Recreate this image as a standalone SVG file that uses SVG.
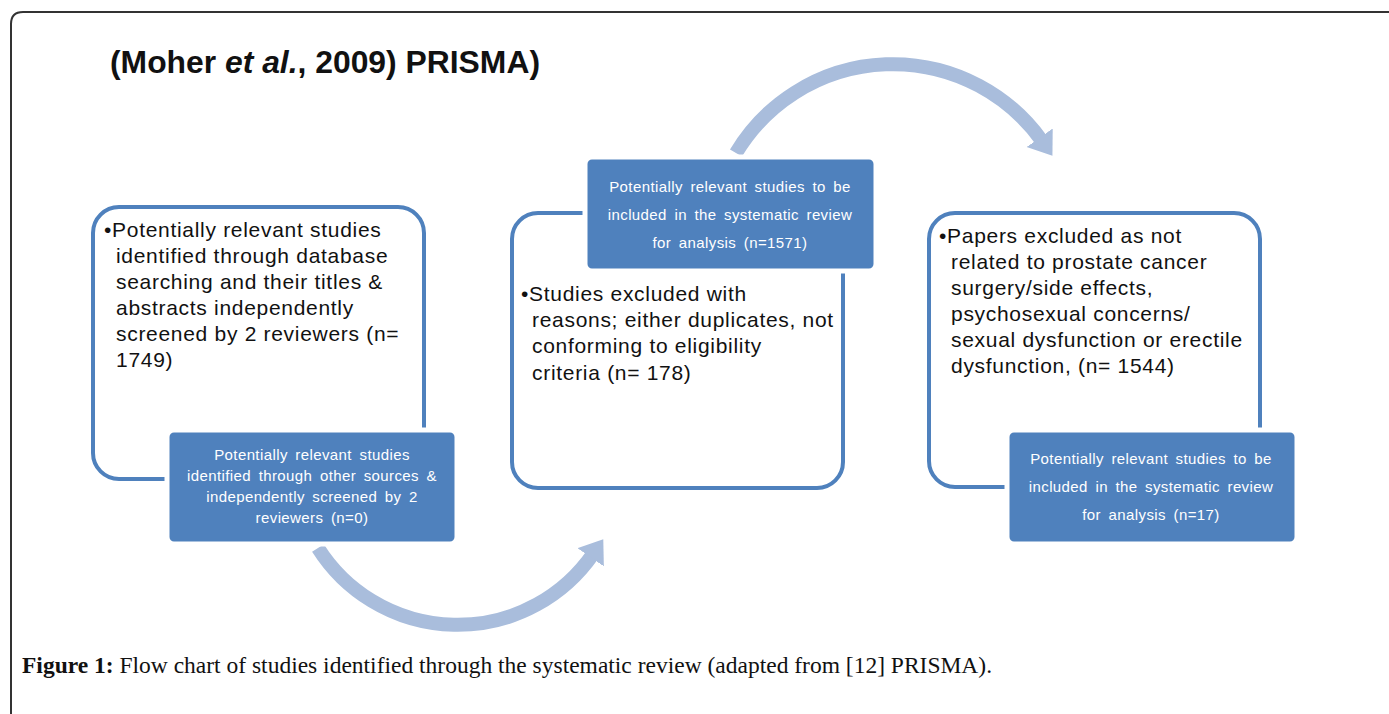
<svg xmlns="http://www.w3.org/2000/svg" width="1389" height="714" viewBox="0 0 1389 714">
<defs>
<style>
.frame{fill:none;stroke:#333;stroke-width:2}
.outline{fill:#fff;stroke:#4f81bd;stroke-width:4}
.blue{fill:#4f81bd;stroke:#fff;stroke-width:5}
.body{font-family:"Liberation Sans",Arial,sans-serif;font-size:21px;letter-spacing:0.7px;fill:#111}
.btxt{font-family:"Liberation Sans",Arial,sans-serif;font-size:15px;letter-spacing:0.4px;word-spacing:3px;fill:#fff;text-anchor:middle}
.arc{fill:none;stroke:#a9bddc;stroke-width:14}
.title{font-family:"Liberation Sans",Arial,sans-serif;font-size:31px;font-weight:bold;fill:#111}
.cap{font-family:"Liberation Serif","Times New Roman",serif;font-size:23.5px;fill:#111}
</style>
<marker id="ah" markerUnits="userSpaceOnUse" markerWidth="40" markerHeight="40" refX="4" refY="16" orient="auto">
<polygon points="0,0 22,16 0,32" fill="#a9bddc"/>
</marker>
</defs>
<rect width="1389" height="714" fill="#fff"/>
<path class="frame" d="M11,714 V24 Q11,12 23,12 H1389"/>
<text class="title" x="110" y="73" textLength="430" lengthAdjust="spacingAndGlyphs">(Moher <tspan font-style="italic">et al.</tspan>, 2009) PRISMA)</text>
<g id="connectors">
<path class="arc" d="M318,548 A165,165 0 0 0 593,554" marker-end="url(#ah)"/>
<path class="arc" d="M736,153 A183,183 0 0 1 1042,141" marker-end="url(#ah)"/>
</g>
<g id="node1">
<rect class="outline" x="93" y="207" width="331" height="272" rx="26"/>
<text class="body"><tspan x="104" y="237">•Potentially relevant studies</tspan><tspan x="116" y="263">identified through database</tspan><tspan x="116" y="289">searching and their titles &amp;</tspan><tspan x="116" y="315">abstracts independently</tspan><tspan x="116" y="341">screened by 2 reviewers (n=</tspan><tspan x="116" y="367">1749)</tspan></text>
</g>
<g id="node2">
<rect class="blue" x="167" y="430" width="290" height="114" rx="7"/>
<text class="btxt"><tspan x="312" y="460">Potentially relevant studies</tspan><tspan x="312" y="481">identified through other sources &amp;</tspan><tspan x="312" y="502">independently screened by 2</tspan><tspan x="312" y="523">reviewers (n=0)</tspan></text>
</g>
<g id="node3">
<rect class="outline" x="512" y="213" width="331" height="275" rx="26"/>
<text class="body"><tspan x="521" y="301">•Studies excluded with</tspan><tspan x="532" y="327">reasons; either duplicates, not</tspan><tspan x="532" y="353">conforming to eligibility</tspan><tspan x="532" y="380">criteria (n= 178)</tspan></text>
</g>
<g id="node4">
<rect class="blue" x="585" y="157" width="291" height="114" rx="7"/>
<text class="btxt"><tspan x="730" y="192">Potentially relevant studies to be</tspan><tspan x="730" y="220">included in the systematic review</tspan><tspan x="730" y="248">for analysis (n=1571)</tspan></text>
</g>
<g id="node5">
<rect class="outline" x="929" y="213" width="331" height="274" rx="26"/>
<text class="body"><tspan x="939" y="243">•Papers excluded as not</tspan><tspan x="951" y="269">related to prostate cancer</tspan><tspan x="951" y="295">surgery/side effects,</tspan><tspan x="951" y="321">psychosexual concerns/</tspan><tspan x="951" y="347">sexual dysfunction or erectile</tspan><tspan x="951" y="373">dysfunction,  (n= 1544)</tspan></text>
</g>
<g id="node6">
<rect class="blue" x="1007" y="430" width="290" height="114" rx="7"/>
<text class="btxt"><tspan x="1151" y="464">Potentially relevant studies to be</tspan><tspan x="1151" y="492">included in the systematic review</tspan><tspan x="1151" y="520">for analysis (n=17)</tspan></text>
</g>
<text class="cap" x="22" y="673"><tspan font-weight="bold">Figure 1:</tspan> Flow chart of studies identified through the systematic review (adapted from [12] PRISMA).</text>
</svg>
